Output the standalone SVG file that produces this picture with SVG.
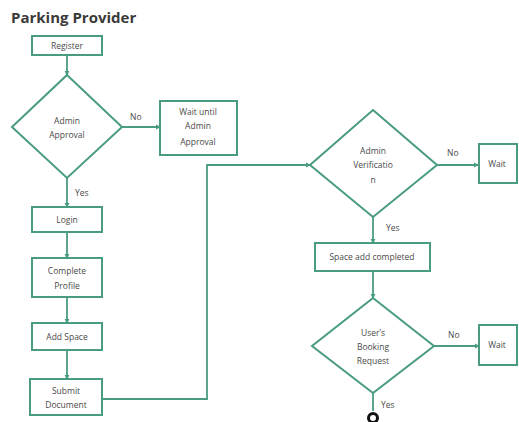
<svg xmlns="http://www.w3.org/2000/svg" width="519" height="422" viewBox="0 0 519 422">
<defs>
<style>
.box{fill:#fff;stroke:#4a9c80;stroke-width:2}
.ln{fill:none;stroke:#4a9c80;stroke-width:1.8}
.t{font-family:"Open Sans","Liberation Sans",sans-serif;font-size:8.5px;fill:#4a4a4a;text-anchor:middle}
.l{font-family:"Open Sans","Liberation Sans",sans-serif;font-size:8.5px;fill:#4a4a4a}
.title{font-family:"Open Sans","Liberation Sans",sans-serif;font-size:15px;font-weight:bold;fill:#3a3a3a}
</style>
<marker id="ah" viewBox="0 0 6 6" refX="5" refY="3" markerWidth="3" markerHeight="3" orient="auto"><path d="M0,0L6,3L0,6z" fill="#4a9c80"/></marker>
</defs>
<rect width="519" height="422" fill="#fff"/>
<text class="title" x="11" y="23">Parking Provider</text>
<g id="connectors">
<path class="ln" d="M67,55V75" marker-end="url(#ah)"/>
<path class="ln" d="M122,127H160" marker-end="url(#ah)"/>
<path class="ln" d="M67,178V207" marker-end="url(#ah)"/>
<path class="ln" d="M67,232V258" marker-end="url(#ah)"/>
<path class="ln" d="M67,297V323" marker-end="url(#ah)"/>
<path class="ln" d="M67,350V379" marker-end="url(#ah)"/>
<path class="ln" d="M102,399H207V165H310" marker-end="url(#ah)"/>
<path class="ln" d="M437,165H478" marker-end="url(#ah)"/>
<path class="ln" d="M373,217V243" marker-end="url(#ah)"/>
<path class="ln" d="M373,271V298" marker-end="url(#ah)"/>
<path class="ln" d="M434,346H479" marker-end="url(#ah)"/>
<path class="ln" d="M373,393V411"/>
<text class="l" x="130" y="120">No</text>
<text class="l" x="75" y="196">Yes</text>
<text class="l" x="447" y="156">No</text>
<text class="l" x="386" y="231">Yes</text>
<text class="l" x="448" y="338">No</text>
<text class="l" x="381" y="408">Yes</text>
</g>
<g id="register"><rect class="box" x="32" y="36" width="70" height="19"/><text class="t" x="67" y="48.5">Register</text></g>
<g id="admin-approval"><path class="box" d="M67,75L122,127L67,178L12,127Z"/><text class="t" x="67" y="124">Admin</text><text class="t" x="67" y="138">Approval</text></g>
<g id="wait-admin"><rect class="box" x="160" y="101" width="77" height="54"/><text class="t" x="198" y="115">Wait until</text><text class="t" x="198" y="129">Admin</text><text class="t" x="198" y="145">Approval</text></g>
<g id="login"><rect class="box" x="32" y="207" width="70" height="25"/><text class="t" x="67" y="223">Login</text></g>
<g id="complete-profile"><rect class="box" x="32" y="258" width="70" height="39"/><text class="t" x="67" y="274">Complete</text><text class="t" x="67" y="289">Profile</text></g>
<g id="add-space"><rect class="box" x="32" y="323" width="70" height="27"/><text class="t" x="67" y="340">Add Space</text></g>
<g id="submit-document"><rect class="box" x="30" y="379" width="72" height="36"/><text class="t" x="66" y="394">Submit</text><text class="t" x="66" y="408">Document</text></g>
<g id="admin-verification"><path class="box" d="M373,110L437,165L373,217L310,165Z"/><text class="t" x="373" y="154">Admin</text><text class="t" x="373" y="168">Verificatio</text><text class="t" x="373" y="183">n</text></g>
<g id="wait1"><rect class="box" x="479" y="144" width="38" height="39"/><text class="t" x="497" y="167">Wait</text></g>
<g id="space-add-completed"><rect class="box" x="315" y="243" width="115" height="28"/><text class="t" x="372" y="260">Space add completed</text></g>
<g id="users-booking"><path class="box" d="M373,298L434,346L373,393L312,346Z"/><text class="t" x="373" y="336">User’s</text><text class="t" x="373" y="350">Booking</text><text class="t" x="373" y="364">Request</text></g>
<g id="wait2"><rect class="box" x="479" y="325" width="38" height="40"/><text class="t" x="497" y="348">Wait</text></g>
<g id="connector-circle"><circle cx="373" cy="418" r="4.5" fill="#fff" stroke="#111" stroke-width="3"/></g>
</svg>
